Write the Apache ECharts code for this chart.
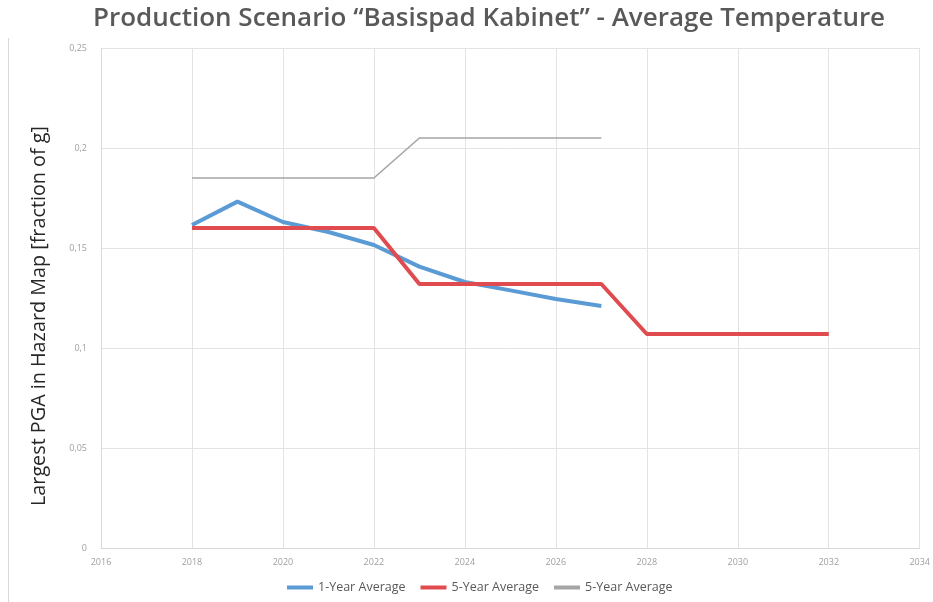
<!DOCTYPE html>
<html><head><meta charset="utf-8">
<script src="https://cdn.jsdelivr.net/npm/echarts@6/dist/echarts.min.js"></script>
<style>html,body{margin:0;padding:0;background:#fff}#c{width:933px;height:602px}</style>
</head><body><div id="c"></div>
<script>
const years1 = [2018,2019,2020,2021,2022,2023,2024,2025,2026,2027];
const oneYear = [0.1615,0.1732,0.163,0.158,0.1515,0.1407,0.133,0.1288,0.1245,0.121];
const years5 = [2018,2022,2023,2027,2028,2032];
const fiveYear = [0.160,0.160,0.132,0.132,0.107,0.107];
const yearsG = [2018,2022,2023,2027];
const fiveYearB = [0.185,0.185,0.205,0.205];
const names = ['1-Year Average','5-Year Average','5-Year Average '];
const title = 'Production Scenario \u201cBasispad Kabinet\u201d - Average Temperature';
const yName = 'Largest PGA in Hazard Map [fraction of g]';

const zip = (xs, ys) => xs.map((x,i)=>[x, ys[i]]);
const chart = echarts.init(document.getElementById('c'));
chart.setOption({
  animation:false,
  title:{text:title,left:93,top:6,padding:0,textStyle:{fontFamily:'Open Sans',fontWeight:600,fontSize:26,color:'#595959'}},
  graphic:[{type:'line',shape:{x1:8.5,y1:38,x2:8.5,y2:602},style:{stroke:'#d9d9d9',lineWidth:1}}],
  grid:{left:101,right:12,top:48,bottom:54},
  legend:{bottom:3,left:282,itemWidth:26,itemHeight:4,itemGap:15,icon:'rect',
    textStyle:{fontFamily:'Open Sans',fontSize:12.5,color:'#595959'},data:names},
  xAxis:{type:'value',min:2016,max:2034,interval:2,
    axisLine:{show:true,lineStyle:{color:'#d9d9d9'}},axisTick:{show:false},
    axisLabel:{color:'#a0a0a0',fontSize:9,fontFamily:'Open Sans',margin:10,formatter:v=>String(v)},
    splitLine:{show:true,lineStyle:{color:'#e3e3e3'}}},
  yAxis:{type:'value',min:0,max:0.25,interval:0.05,
    name:yName,nameLocation:'middle',nameGap:52,
    nameTextStyle:{fontFamily:'Open Sans',fontSize:19.8,color:'#262626',padding:[0,36,0,0]},
    axisLine:{show:true,lineStyle:{color:'#d9d9d9'}},axisTick:{show:false},
    axisLabel:{color:'#a0a0a0',fontSize:9,fontFamily:'Open Sans',margin:14,
      formatter:v=>String(+v.toFixed(2)).replace('.',',')},
    splitLine:{show:true,lineStyle:{color:'#e3e3e3'}}},
  series:[
    {name:names[0],type:'line',data:zip(years1,oneYear),symbol:'none',
      lineStyle:{width:4,color:'#5b9bd5'},itemStyle:{color:'#5b9bd5'}},
    {name:names[1],type:'line',data:zip(years5,fiveYear),symbol:'none',
      lineStyle:{width:4,color:'#e04b4f'},itemStyle:{color:'#e04b4f'}},
    {name:names[2],type:'line',data:zip(yearsG,fiveYearB),symbol:'none',
      lineStyle:{width:1.6,color:'#a5a5a5'},itemStyle:{color:'#a5a5a5'}}
  ]
});
</script></body></html>
